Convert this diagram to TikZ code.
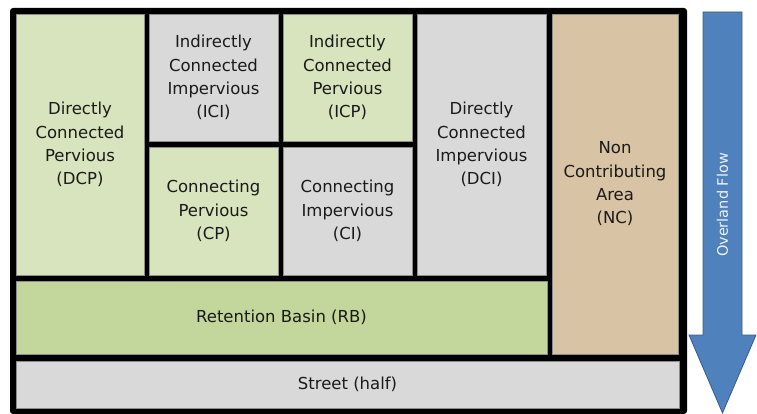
\documentclass[tikz,border=0pt]{standalone}
\usepackage{fontspec}
\setmainfont{DejaVu Sans}
\definecolor{lgreen}{HTML}{D7E4BD}
\definecolor{lgray}{HTML}{D9D9D9}
\definecolor{mgreen}{HTML}{C3D69B}
\definecolor{tan}{HTML}{D9C3A5}
\definecolor{arrowblue}{HTML}{4F81BD}
\definecolor{arrowedge}{HTML}{385D8A}
\definecolor{txt}{HTML}{1A1A1A}
\tikzset{
  cell/.style={draw=black!45, line width=0.6pt, inner sep=0pt, align=center,
    text=txt, font=\fontsize{16.5}{23.3}\selectfont},
}
\begin{document}
\begin{tikzpicture}[x=1pt,y=-1pt]
\useasboundingbox (0,0) rectangle (757,414);
% frame
\fill[black, rounded corners=3pt] (10,8) rectangle (687,414);
% cells
\node[cell, fill=lgreen, minimum width=128pt, minimum height=261pt] (dcp) at (80,144.5) {Directly\\Connected\\Pervious\\(DCP)};
\node[cell, fill=lgray, minimum width=129pt, minimum height=127pt] (ici) at (213.5,77.5) {Indirectly\\Connected\\Impervious\\(ICI)};
\node[cell, fill=lgreen, minimum width=129pt, minimum height=127pt] (icp) at (347.5,77.5) {Indirectly\\Connected\\Pervious\\(ICP)};
\node[cell, fill=lgreen, minimum width=129pt, minimum height=128pt] (cp) at (213.5,211) {Connecting\\Pervious\\(CP)};
\node[cell, fill=lgray, minimum width=129pt, minimum height=128pt] (ci) at (347.5,211) {Connecting\\Impervious\\(CI)};
\node[cell, fill=lgray, minimum width=129pt, minimum height=261pt] (dci) at (481.5,144.5) {Directly\\Connected\\Impervious\\(DCI)};
\node[cell, fill=tan, minimum width=126pt, minimum height=340pt] (nc) at (615,184) {Non\\Contributing\\Area\\(NC)};
\node[cell, fill=mgreen, minimum width=531pt, minimum height=73pt] (rb) at (281.5,317.5) {Retention Basin (RB)};
\node[cell, fill=lgray, minimum width=663pt, minimum height=47pt] (st) at (347.5,384.5) {Street (half)};
% arrow
\draw[fill=arrowblue, draw=arrowedge, line width=0.8pt, line join=miter]
  (703,12) -- (742,12) -- (742,335) -- (756,335) -- (722.5,413) -- (689,335) -- (703,335) -- cycle;
\node[rotate=90, text=white!90!arrowblue, font=\fontsize{14.5}{16}\selectfont] (flow) at (722.5,205) {Overland Flow};
\end{tikzpicture}
\end{document}
